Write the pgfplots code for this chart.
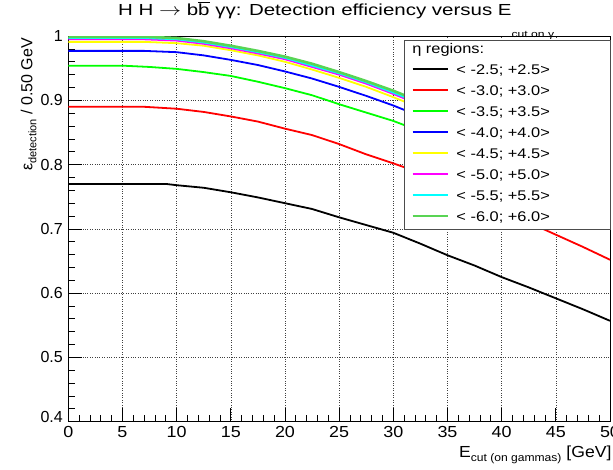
\documentclass[border=0pt]{standalone}
\usepackage{pgfplots}
\pgfplotsset{compat=1.18}
\usepackage{graphicx}
\usepackage{fontspec}
\setmainfont{Liberation Sans}
\definecolor{rootgreen}{rgb}{0.35,0.83,0.33}
\definecolor{rred}{rgb}{1,0,0}
\definecolor{rgreen}{rgb}{0,1,0}
\definecolor{rblue}{rgb}{0,0,1}
\definecolor{ryellow}{rgb}{1,1,0}
\definecolor{rmagenta}{rgb}{1,0,1}
\definecolor{rcyan}{rgb}{0,1,1}
\newcommand\W[1]{\scalebox{1.12}[1]{#1}}
\newcommand\LE[1]{\makebox[154pt][l]{\hspace*{7.7pt}\scalebox{1.17}[1]{#1}}}
\begin{document}
\begin{tikzpicture}
\path[use as bounding box] (-68.3pt,-47.3pt) rectangle (544.7pt,421.7pt);
\begin{axis}[
  scale only axis, width=541.7pt, height=385.6pt,
  xmin=0, xmax=50, ymin=0.4, ymax=1,
  xtick={0,5,10,15,20,25,30,35,40,45,50},
  xticklabels={\W{0},\W{5},\W{10},\W{15},\W{20},\W{25},\W{30},\W{35},\W{40},\W{45},\W{50}},
  ytick={0.4,0.5,0.6,0.7,0.8,0.9,1},
  yticklabels={\raisebox{9pt}{0.4},0.5,0.6,0.7,0.8,0.9,1},
  minor x tick num=4, minor y tick num=4,
  tick pos=left, tick align=inside,
  major tick length=14pt, minor tick length=7pt,
  grid=major, major grid style={dotted, black!75, line width=0.6pt},
  axis line style={line width=0.8pt},
  every tick/.style={black, line width=0.8pt},
  tick label style={font=\fontsize{16}{16}\selectfont},
  yticklabel style={xshift=-2pt},
  xticklabel style={yshift=-1pt},
  title={\scalebox{1.28}[1]{H H $\rightarrow$ b$\overline{\mbox{b}}$ γγ: Detection efficiency versus E\raisebox{-22pt}{\fontsize{9.5}{9.5}\selectfont cut on γ}}},
  title style={at={(axis description cs:0.5,1)}, anchor=base, xshift=-3pt, yshift=15pt, font=\fontsize{16}{16}\selectfont, inner sep=0pt},
  xlabel={\scalebox{1.1}[1]{E\raisebox{-4pt}{\fontsize{11}{11}\selectfont cut (on gammas)} [GeV]}},
  xlabel style={at={(axis description cs:1.003,-0.094)}, anchor=base east, font=\fontsize{16}{16}\selectfont, inner sep=0pt},
  ylabel={ε\raisebox{-4pt}{\fontsize{11}{11}\selectfont detection} / 0.50 GeV},
  ylabel style={at={(axis description cs:-0.0665,0.995)}, anchor=base east, font=\fontsize{16}{16}\selectfont, inner sep=0pt},
  legend style={at={(rel axis cs:1,0.9899)}, anchor=north east, draw=black!70, fill=white,
    font=\fontsize{14}{14}\selectfont, inner xsep=7pt, inner ysep=0pt, row sep=0pt, column sep=0pt,
    nodes={inner sep=0pt, text height=13pt, text depth=8pt}},
  legend cell align=left,
  legend image code/.code={\draw[#1, line width=2.2pt] (0pt,2.5pt) -- (35pt,2.5pt);},
  every axis plot/.append style={line width=1.8pt, line join=round},
]
\addlegendimage{empty legend}
\addlegendentry{\makebox[154pt][l]{\hspace*{-36.5pt}\scalebox{1.17}[1]{η regions:}}}

\addplot[black] coordinates {(0,0.770) (9,0.770) (10,0.768) (12.5,0.764) (15,0.757) (17.5,0.749) (20,0.740) (22.5,0.731) (25,0.718) (27.5,0.706) (30,0.694) (32.5,0.677) (35,0.659) (37.5,0.643) (40,0.625) (42.5,0.609) (45,0.592) (47.5,0.575) (50,0.557)};
\addlegendentry{\LE{< -2.5; +2.5>}}

\addplot[rred] coordinates {(0,0.890) (7,0.890) (10,0.887) (12.5,0.882) (15,0.875) (17.5,0.867) (20,0.856) (22.5,0.846) (25,0.832) (27.5,0.816) (30,0.802) (32.5,0.787) (35,0.769) (37.5,0.751) (40,0.731) (42.5,0.710) (45,0.691) (47.5,0.672) (50,0.652)};
\addlegendentry{\LE{< -3.0; +3.0>}}

\addplot[rgreen] coordinates {(0,0.954) (5,0.954) (7.5,0.952) (10,0.949) (12.5,0.944) (15,0.938) (17.5,0.929) (20,0.919) (22.5,0.908) (25,0.894) (27.5,0.881) (30,0.868) (32.5,0.852) (35,0.835) (37.5,0.817) (40,0.798) (42.5,0.778) (45,0.757) (47.5,0.736) (50,0.715)};
\addlegendentry{\LE{< -3.5; +3.5>}}

\addplot[rblue] coordinates {(0,0.977) (7,0.977) (10,0.975) (12.5,0.970) (15,0.963) (17.5,0.955) (20,0.945) (22.5,0.934) (25,0.921) (27.5,0.907) (30,0.892) (32.5,0.875) (35,0.857) (37.5,0.838) (40,0.818) (42.5,0.797) (45,0.775) (47.5,0.753) (50,0.731)};
\addlegendentry{\LE{< -4.0; +4.0>}}

\addplot[ryellow] coordinates {(0,0.991) (7,0.991) (10,0.989) (12.5,0.985) (15,0.978) (17.5,0.970) (20,0.960) (22.5,0.948) (25,0.935) (27.5,0.921) (30,0.905) (32.5,0.888) (35,0.870) (37.5,0.851) (40,0.831) (42.5,0.810) (45,0.788) (47.5,0.766) (50,0.744)};
\addlegendentry{\LE{< -4.5; +4.5>}}

\addplot[rmagenta] coordinates {(0,0.995) (7,0.995) (10,0.993) (12.5,0.988) (15,0.981) (17.5,0.973) (20,0.964) (22.5,0.952) (25,0.940) (27.5,0.926) (30,0.910) (32.5,0.893) (35,0.875) (37.5,0.856) (40,0.836) (42.5,0.815) (45,0.793) (47.5,0.771) (50,0.749)};
\addlegendentry{\LE{< -5.0; +5.0>}}

\addplot[rcyan] coordinates {(0,0.997) (7,0.997) (10,0.995) (12.5,0.990) (15,0.983) (17.5,0.975) (20,0.966) (22.5,0.954) (25,0.942) (27.5,0.928) (30,0.912) (32.5,0.895) (35,0.877) (37.5,0.858) (40,0.838) (42.5,0.817) (45,0.795) (47.5,0.773) (50,0.751)};
\addlegendentry{\LE{< -5.5; +5.5>}}

\addplot[rootgreen, line width=2.6pt] coordinates {(0,0.999) (7,0.999) (10,0.997) (12.5,0.992) (15,0.985) (17.5,0.977) (20,0.968) (22.5,0.957) (25,0.944) (27.5,0.930) (30,0.915) (32.5,0.898) (35,0.880) (37.5,0.861) (40,0.841) (42.5,0.820) (45,0.798) (47.5,0.776) (50,0.754)};
\addlegendentry{\LE{< -6.0; +6.0>}}
\end{axis}
\end{tikzpicture}
\end{document}
